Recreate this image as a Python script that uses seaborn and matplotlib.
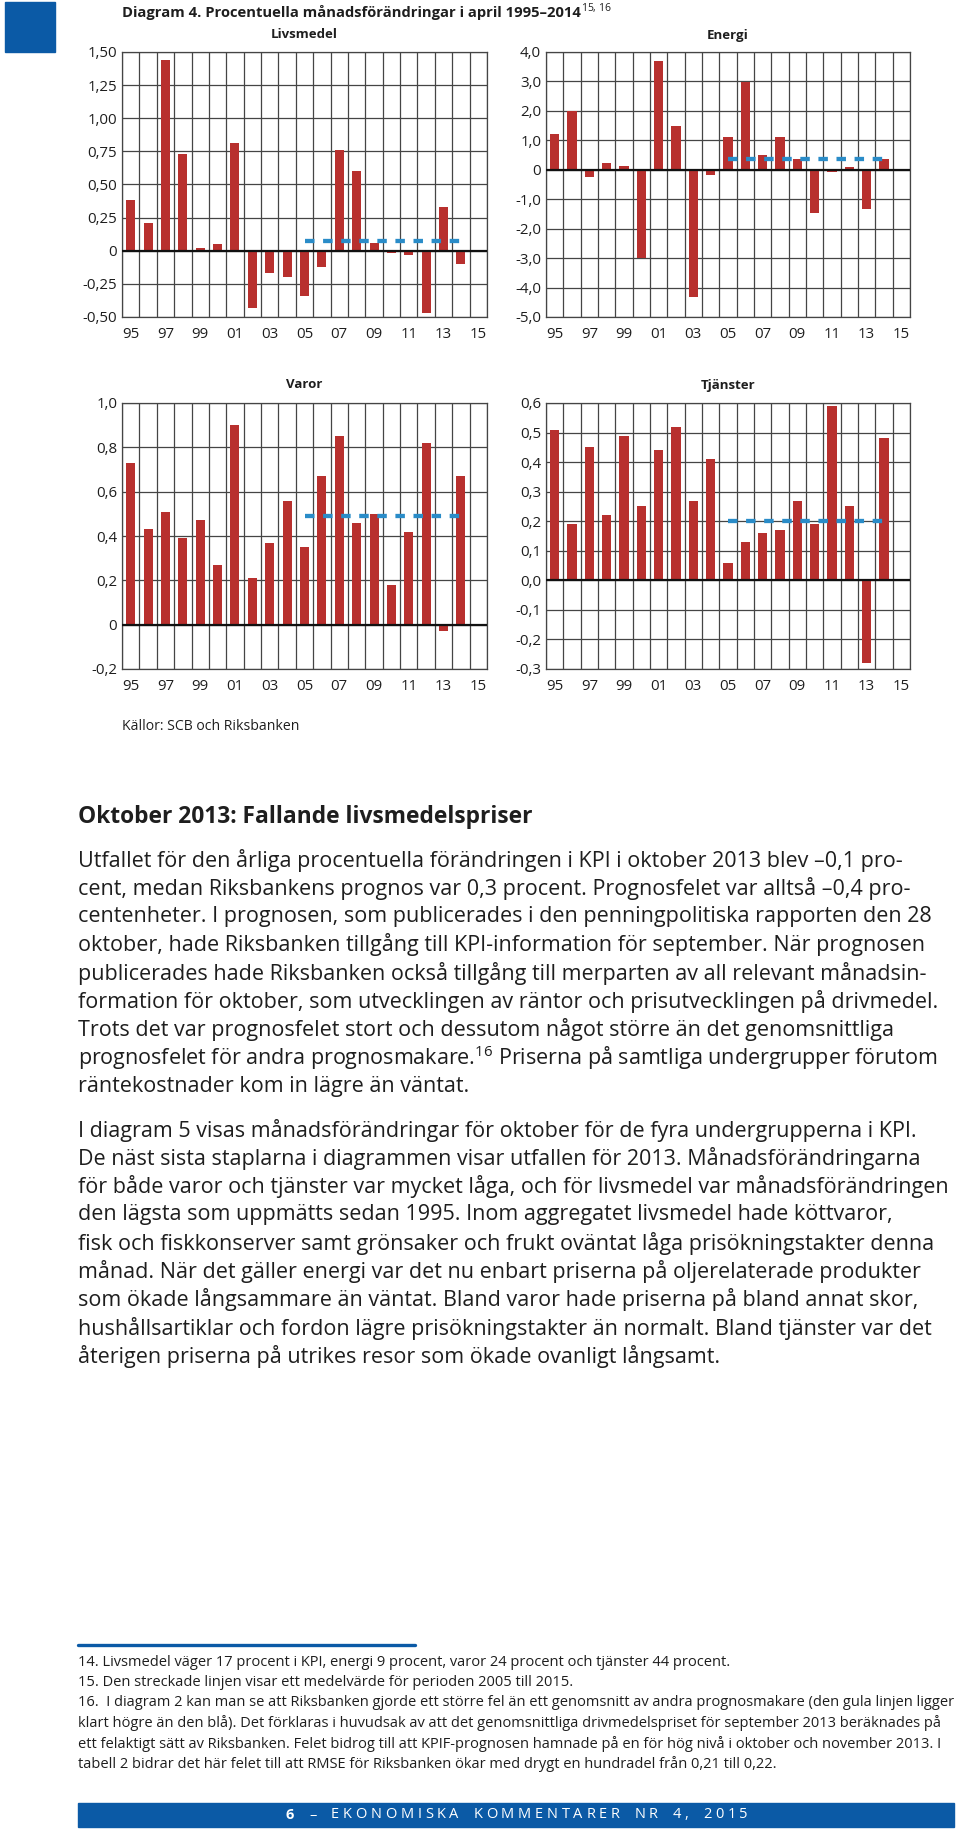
import numpy as np
import pandas as pd
import matplotlib
matplotlib.use("Agg")
import matplotlib.pyplot as plt
import seaborn as sns
from matplotlib.patches import Rectangle
from matplotlib.ticker import FixedLocator

# ---------------- data ----------------
years = [str(y) for y in range(1995, 2016)]
year_labels = ["95", "97", "99", "01", "03", "05", "07", "09", "11", "13", "15"]

livsmedel = [0.38, 0.21, 1.44, 0.73, 0.02, 0.05, 0.81, -0.43, -0.17, -0.20,
             -0.34, -0.12, 0.76, 0.60, 0.06, -0.02, -0.03, -0.47, 0.33, -0.10]
energi = [1.2, 2.0, -0.25, 0.24, 0.14, -3.0, 3.7, 1.49, -4.31, -0.17,
          1.12, 2.97, 0.50, 1.10, 0.38, -1.47, -0.08, 0.10, -1.34, 0.35]
varor = [0.73, 0.43, 0.51, 0.39, 0.47, 0.27, 0.90, 0.21, 0.37, 0.56,
         0.35, 0.67, 0.85, 0.46, 0.50, 0.18, 0.42, 0.82, -0.03, 0.67]
tjanster = [0.51, 0.19, 0.45, 0.22, 0.49, 0.25, 0.44, 0.52, 0.27, 0.41,
            0.06, 0.13, 0.16, 0.17, 0.27, 0.19, 0.59, 0.25, -0.28, 0.48]

medel_livsmedel = 0.07
medel_energi = 0.37
medel_varor = 0.49
medel_tjanster = 0.20
medel_start, medel_end = "2005", "2014"

yt_livsmedel = [-0.50, -0.25, 0, 0.25, 0.50, 0.75, 1.00, 1.25, 1.50]
yl_livsmedel = ["-0,50", "-0,25", "0", "0,25", "0,50", "0,75", "1,00", "1,25", "1,50"]
yt_energi = [-5, -4, -3, -2, -1, 0, 1, 2, 3, 4]
yl_energi = ["-5,0", "-4,0", "-3,0", "-2,0", "-1,0", "0", "1,0", "2,0", "3,0", "4,0"]
yt_varor = [-0.2, 0, 0.2, 0.4, 0.6, 0.8, 1.0]
yl_varor = ["-0,2", "0", "0,2", "0,4", "0,6", "0,8", "1,0"]
yt_tjanster = [-0.3, -0.2, -0.1, 0, 0.1, 0.2, 0.3, 0.4, 0.5, 0.6]
yl_tjanster = ["-0,3", "-0,2", "-0,1", "0,0", "0,1", "0,2", "0,3", "0,4", "0,5", "0,6"]

chart_title = "Diagram 4. Procentuella månadsförändringar i april 1995–2014"
chart_title_sup = "$^{15,\\,16}$"
source = "Källor: SCB och Riksbanken"
heading = "Oktober 2013: Fallande livsmedelspriser"
para1 = [
    "Utfallet för den årliga procentuella förändringen i KPI i oktober 2013 blev –0,1 pro-",
    "cent, medan Riksbankens prognos var 0,3 procent. Prognosfelet var alltså –0,4 pro-",
    "centenheter. I prognosen, som publicerades i den penningpolitiska rapporten den 28",
    "oktober, hade Riksbanken tillgång till KPI-information för september. När prognosen",
    "publicerades hade Riksbanken också tillgång till merparten av all relevant månadsin-",
    "formation för oktober, som utvecklingen av räntor och prisutvecklingen på drivmedel.",
    "Trots det var prognosfelet stort och dessutom något större än det genomsnittliga",
    "prognosfelet för andra prognosmakare.$^{16}$ Priserna på samtliga undergrupper förutom",
    "räntekostnader kom in lägre än väntat.",
]
para2 = [
    "I diagram 5 visas månadsförändringar för oktober för de fyra undergrupperna i KPI.",
    "De näst sista staplarna i diagrammen visar utfallen för 2013. Månadsförändringarna",
    "för både varor och tjänster var mycket låga, och för livsmedel var månadsförändringen",
    "den lägsta som uppmätts sedan 1995. Inom aggregatet livsmedel hade köttvaror,",
    "fisk och fiskkonserver samt grönsaker och frukt oväntat låga prisökningstakter denna",
    "månad. När det gäller energi var det nu enbart priserna på oljerelaterade produkter",
    "som ökade långsammare än väntat. Bland varor hade priserna på bland annat skor,",
    "hushållsartiklar och fordon lägre prisökningstakter än normalt. Bland tjänster var det",
    "återigen priserna på utrikes resor som ökade ovanligt långsamt.",
]
footnotes = [
    "14. Livsmedel väger 17 procent i KPI, energi 9 procent, varor 24 procent och tjänster 44 procent.",
    "15. Den streckade linjen visar ett medelvärde för perioden 2005 till 2015.",
    "16.  I diagram 2 kan man se att Riksbanken gjorde ett större fel än ett genomsnitt av andra prognosmakare (den gula linjen ligger",
    "klart högre än den blå). Det förklaras i huvudsak av att det genomsnittliga drivmedelspriset för september 2013 beräknades på",
    "ett felaktigt sätt av Riksbanken. Felet bidrog till att KPIF-prognosen hamnade på en för hög nivå i oktober och november 2013. I",
    "tabell 2 bidrar det här felet till att RMSE för Riksbanken ökar med drygt en hundradel från 0,21 till 0,22.",
]
footer_text = "6 – EKONOMISKA KOMMENTARER NR 4, 2015"

# ---------------- style ----------------
RED = "#b8302e"
BLUE_DASH = "#2a8cc8"
BLUE = "#0b5aa6"
GRID = "#454545"
TXT = "#1e1e1e"

sns.set_theme(style="white")
plt.rcParams["font.family"] = ["Open Sans", "DejaVu Sans"]
plt.rcParams["mathtext.fontset"] = "custom"
plt.rcParams["mathtext.rm"] = "Open Sans"
plt.rcParams["mathtext.it"] = "Open Sans:italic"
plt.rcParams["mathtext.bf"] = "Open Sans:bold"

W, H = 960, 1837
fig = plt.figure(figsize=(W / 100, H / 100), dpi=100)
fig.patch.set_facecolor("white")
renderer = fig.canvas.get_renderer()


def px_axes(x0, y0, x1, y1):
    return fig.add_axes([x0 / W, 1 - y1 / H, (x1 - x0) / W, (y1 - y0) / H])


def ftext(x, y, s, **kw):
    kw.setdefault("color", TXT)
    return fig.text(x / W, 1 - y / H, s, **kw)


def width_px(t):
    return t.get_window_extent(renderer).width


def fit_size(s, target_w, weight="normal", fs0=12.0):
    t = fig.text(0, 0, s, fontsize=fs0, fontweight=weight)
    w = width_px(t)
    t.remove()
    return fs0 * target_w / w


def panel(ax, values, mean, yticks, ylabels, title, tx, ty):
    df = pd.DataFrame({"year": years[:len(values)], "value": values})
    sns.barplot(data=df, x="year", y="value", order=years, color=RED,
                width=0.52, saturation=1, edgecolor="none", ax=ax, zorder=2)
    n = len(years)
    ax.set_xlim(-0.5, n - 0.5)
    ax.set_ylim(yticks[0], yticks[-1])
    ax.set_yticks(yticks)
    ax.set_yticklabels(ylabels)
    ax.set_xticks(list(range(0, n, 2)))
    ax.set_xticklabels(year_labels)
    ax.xaxis.set_minor_locator(FixedLocator(np.arange(-0.5, n, 1.0)))
    ax.set_axisbelow(True)
    ax.grid(False)
    ax.grid(which="minor", axis="x", color=GRID, lw=0.9)
    ax.grid(which="major", axis="y", color=GRID, lw=0.9)
    ax.tick_params(which="both", length=0, labelsize=10.8, colors=TXT)
    ax.tick_params(axis="y", pad=3.5)
    ax.tick_params(axis="x", pad=7.5)
    for sp in ax.spines.values():
        sp.set_color(GRID)
        sp.set_linewidth(0.9)
    ax.axhline(0, color="#111111", lw=1.6, zorder=3)
    i0, i1 = years.index(medel_start), years.index(medel_end)
    ax.plot([i0, i1], [mean, mean], color=BLUE_DASH, lw=3.1,
            dashes=(2.2, 2.0), solid_capstyle="butt", zorder=4)
    ax.set_xlabel("")
    ax.set_ylabel("")
    ftext(tx, ty, title, ha="center", va="center", fontsize=9.5, fontweight="bold")


# blue square
fig.patches.append(Rectangle((5 / W, 1 - 52 / H), 50 / W, 50 / H,
                             transform=fig.transFigure, color=BLUE, zorder=5))

# chart title (fitted to the reference width)
fs_title = fit_size(chart_title, 458, weight="bold")
t_title = ftext(122, 12, chart_title, ha="left", va="center",
                fontsize=fs_title, fontweight="bold")
ftext(122 + width_px(t_title), 10, chart_title_sup, ha="left", va="center",
      fontsize=fs_title)

ax1 = px_axes(122, 52, 487, 317)
panel(ax1, livsmedel, medel_livsmedel, yt_livsmedel, yl_livsmedel, "Livsmedel", 304, 35)
ax2 = px_axes(546, 52, 910, 317)
panel(ax2, energi, medel_energi, yt_energi, yl_energi, "Energi", 728, 35)
ax3 = px_axes(122, 403, 487, 669)
panel(ax3, varor, medel_varor, yt_varor, yl_varor, "Varor", 304, 385)
ax4 = px_axes(546, 403, 910, 669)
panel(ax4, tjanster, medel_tjanster, yt_tjanster, yl_tjanster, "Tjänster", 728, 385)

ftext(122, 727, source, ha="left", va="center", fontsize=fit_size(source, 176))

ftext(78, 817, heading, ha="left", va="center",
      fontsize=fit_size(heading, 454, weight="bold"), fontweight="bold")

fs_body = fit_size(para2[2], 861)
y0 = 860
for i, line in enumerate(para1):
    ftext(78, y0 + i * 28.3, line, ha="left", va="center", fontsize=fs_body)
y0 = 1130
for i, line in enumerate(para2):
    ftext(78, y0 + i * 28.3, line, ha="left", va="center", fontsize=fs_body)

# footnote rule
fig.add_artist(plt.Line2D([78 / W, 415 / W], [1 - 1645 / H, 1 - 1645 / H],
                          transform=fig.transFigure, color=BLUE, lw=2.4))
fs_fn = fit_size(footnotes[2], 870)
y0 = 1662
for i, line in enumerate(footnotes):
    ftext(78, y0 + i * 20.4, line, ha="left", va="center", fontsize=fs_fn)

# footer bar
fig.patches.append(Rectangle((78 / W, 1 - 1827 / H), 876 / W, 24 / H,
                             transform=fig.transFigure, color=BLUE, zorder=5))

# letter-spaced footer text, centred in the bar
fs_footer = 10.5
target_w = 462.0
space_w = 7.0
glyphs = []
for k, ch in enumerate(footer_text):
    if ch == " ":
        glyphs.append((ch, None, space_w))
        continue
    t = ftext(0, 1815, ch, ha="left", va="center", fontsize=fs_footer,
              fontweight="bold" if k == 0 else "normal", color="white", zorder=6)
    glyphs.append((ch, t, width_px(t)))
nat = sum(g[2] for g in glyphs)
track = (target_w - nat) / (len(glyphs) - 1)
x = 517 - target_w / 2
for ch, t, w in glyphs:
    if t is not None:
        t.set_x(x / W)
    x += w + track

fig.savefig("out.png", dpi=100, facecolor="white")
